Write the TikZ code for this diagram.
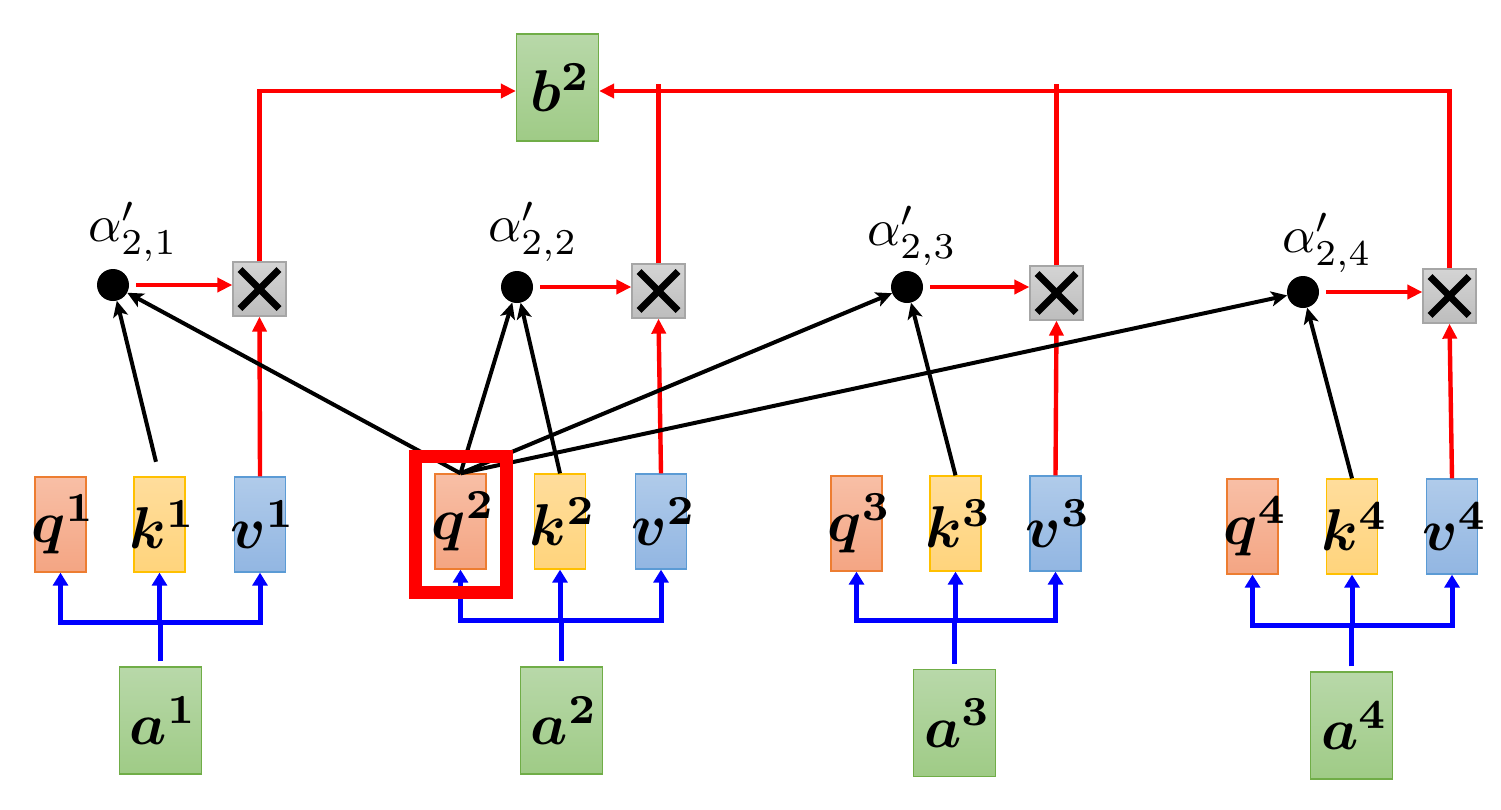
\documentclass[tikz,border=0pt]{standalone}
\usepackage{graphicx}
\usepackage{amsmath,bm}
\usetikzlibrary{arrows.meta}
\definecolor{qfill1}{HTML}{F8BFA6}
\definecolor{qfill2}{HTML}{F4A583}
\definecolor{qdraw}{HTML}{ED7D31}
\definecolor{kfill1}{HTML}{FFDD9C}
\definecolor{kfill2}{HTML}{FFD47C}
\definecolor{kdraw}{HTML}{FFC000}
\definecolor{vfill1}{HTML}{B0CBEA}
\definecolor{vfill2}{HTML}{92B6E2}
\definecolor{vdraw}{HTML}{5B9BD5}
\definecolor{gfill1}{HTML}{B8D8A9}
\definecolor{gfill2}{HTML}{9FCB86}
\definecolor{gdraw}{HTML}{70AD47}
\definecolor{xfill1}{HTML}{D4D4D4}
\definecolor{xfill2}{HTML}{BDBDBD}
\definecolor{xdraw}{HTML}{A6A6A6}
\definecolor{myred}{HTML}{FF0000}
\definecolor{myblue}{HTML}{0000FF}
\tikzset{
  vecbox/.style={rectangle, minimum width=51pt, minimum height=95pt, inner sep=0pt, line width=1.3pt},
  qbox/.style={vecbox, draw=qdraw, top color=qfill1, bottom color=qfill2},
  kbox/.style={vecbox, draw=kdraw, top color=kfill1, bottom color=kfill2},
  vbox/.style={vecbox, draw=vdraw, top color=vfill1, bottom color=vfill2},
  gbox/.style={vecbox, minimum width=82pt, minimum height=107pt, draw=gdraw, top color=gfill1, bottom color=gfill2},
  xbox/.style={rectangle, minimum width=53pt, minimum height=54pt, inner sep=0pt, line width=1.3pt,
     draw=xdraw, top color=xfill1, bottom color=xfill2},
  dotnode/.style={circle, fill=black, minimum size=32pt, inner sep=0pt},
  alab/.style={inner sep=0pt},
  redarr/.style={draw=myred, line width=4.4pt, -{Triangle[length=15pt,width=14pt]}},
  redline/.style={draw=myred, line width=4.4pt},
  blkarr/.style={draw=black, line width=4pt, -{Stealth[length=16pt,width=15pt,inset=4pt]}},
  bluearr/.style={draw=myblue, line width=5pt, -{Triangle[length=13pt,width=15pt]}},
  blueline/.style={draw=myblue, line width=5pt},
  crossline/.style={draw=black, line width=7pt, line cap=butt},
}
\newcommand{\bv}[2]{\makebox[0pt][c]{\hspace*{6pt}\scalebox{5.9}{$\bm{#1}^{\mathbf{#2}}$}}}
\newcommand{\alp}[1]{\scalebox{5.2}{$\alpha'_{2,#1}$}}
\begin{document}
\begin{tikzpicture}[x=1pt,y=-1pt]
\useasboundingbox (0,0) rectangle (1501,809);

% vector boxes
\node[qbox] (q1) at (60.5,524.5) {\bv{q}{1}};
\node[kbox] (k1) at (159.5,524.5) {\bv{k}{1}};
\node[vbox] (v1) at (260,524.5) {\bv{v}{1}};
\node[gbox] (a1) at (160.5,720.5) {\bv{a}{1}};

\node[qbox] (q2) at (460.5,521.5) {\bv{q}{2}};
\node[kbox] (k2) at (560,521.5) {\bv{k}{2}};
\node[vbox] (v2) at (661,521.5) {\bv{v}{2}};
\node[gbox] (a2) at (561.5,720.5) {\bv{a}{2}};

\node[qbox] (q3) at (856.5,523.5) {\bv{q}{3}};
\node[kbox] (k3) at (955.5,523.5) {\bv{k}{3}};
\node[vbox] (v3) at (1055.5,523.5) {\bv{v}{3}};
\node[gbox] (a3) at (954.5,723) {\bv{a}{3}};

\node[qbox] (q4) at (1252.5,526.5) {\bv{q}{4}};
\node[kbox] (k4) at (1352,526.5) {\bv{k}{4}};
\node[vbox] (v4) at (1452,526.5) {\bv{v}{4}};
\node[gbox] (a4) at (1351.5,725.5) {\bv{a}{4}};

\node[gbox] (b2) at (557.5,87.5) {\bv{b}{2}};

% multiply boxes
\foreach \n/\x/\y in {x1/259.5/289, x2/658.5/291, x3/1056.5/293, x4/1449.5/296}{
  \node[xbox] (\n) at (\x,\y) {};
  \draw[crossline] ([shift={(-19.5pt,19.5pt)}]\n.center) -- ([shift={(19.5pt,-19.5pt)}]\n.center);
  \draw[crossline] ([shift={(-19.5pt,-19.5pt)}]\n.center) -- ([shift={(19.5pt,19.5pt)}]\n.center);
}

% dots and labels
\node[dotnode] (d1) at (113,285) {};
\node[dotnode] (d2) at (517,287) {};
\node[dotnode] (d3) at (907,287) {};
\node[dotnode] (d4) at (1303,292) {};
\node[alab] (l1) at (133,232) {\alp{1}};
\node[alab] (l2) at (533,232) {\alp{2}};
\node[alab] (l3) at (912,236) {\alp{3}};
\node[alab] (l4) at (1327,243) {\alp{4}};

% blue input buses
\foreach \i/\by in {1/622, 2/620, 3/620, 4/625}{
  \coordinate (bus\i) at (0,\by);
  \draw[blueline, shorten <=5pt] (a\i.north) -- (a\i.north |- bus\i);
  \draw[blueline] ([xshift=-2.5pt]q\i.south |- bus\i) -- ([xshift=2.5pt]v\i.south |- bus\i);
  \draw[bluearr] (q\i.south |- bus\i) -- (q\i.south);
  \draw[bluearr] (k\i.south |- bus\i) -- (k\i.south);
  \draw[bluearr] (v\i.south |- bus\i) -- (v\i.south);
}

% value to multiply
\foreach \i in {1,2,3,4}{
  \draw[redarr] (v\i.north) -- (x\i.south);
  \draw[redarr, shorten <=7pt] (d\i.east) -- (d\i.east -| x\i.west);
}

% multiply to b2
\coordinate (top) at (0,84);
\draw[redarr] (x1.north) |- ([yshift=-3.5pt]b2.west);
\draw[redarr] (x4.north) |- ([yshift=-3.5pt]b2.east);
\draw[redline] (x2.north) -- (x2.north |- top);
\draw[redline] (x3.north) -- (x3.north |- top);

% attention arrows
\draw[blkarr, shorten <=15pt] (k1.north) -- (d1);
\draw[blkarr] (k2.north) -- (d2);
\draw[blkarr] (k3.north) -- (d3);
\draw[blkarr] (k4.north) -- (d4);
\draw[blkarr] (q2.north) -- (d1);
\draw[blkarr] (q2.north) -- (d2);
\draw[blkarr] (q2.north) -- (d3);
\draw[blkarr] (q2.north) -- (d4);

% highlight frame
\draw[myred, line width=13pt] (415.5,456.5) rectangle (506.5,592.5);
\end{tikzpicture}
\end{document}
